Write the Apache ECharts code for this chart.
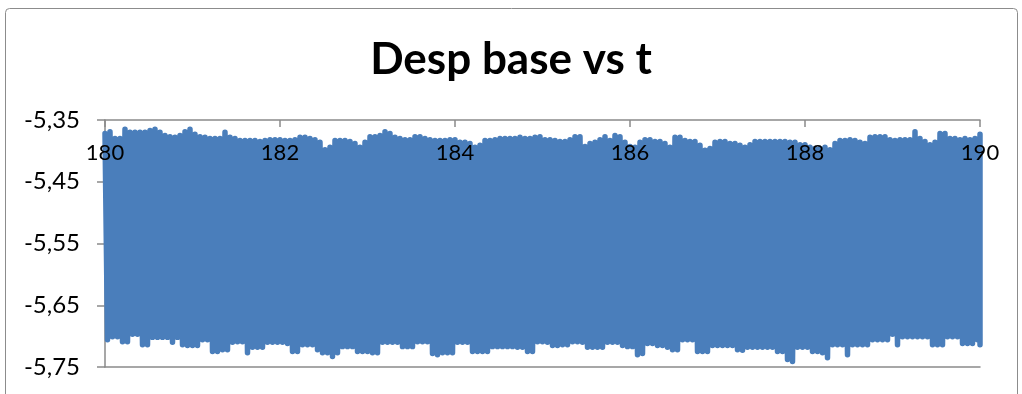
<!DOCTYPE html>
<html>
<head>
<meta charset="utf-8">
<script src="https://cdn.jsdelivr.net/npm/echarts@6/dist/echarts.min.js"></script>
<style>
html,body{margin:0;padding:0;background:#fff;}
#chart{width:1022px;height:394px;}
</style>
</head>
<body>
<div id="chart"></div>
<script>
// Sampling window (t) and axis ticks
const tFirst = 180;
const tLast = 190;
const xTicks = [180, 182, 184, 186, 188, 190];
const yTicks = [-5.75, -5.65, -5.55, -5.45, -5.35];

// Upper envelope (oscillation maxima, line centre), read left to right
const tops = [
-5.372,-5.369,-5.380,-5.380,-5.365,-5.370,-5.370,-5.370,-5.370,-5.367,
-5.365,-5.370,-5.375,-5.377,-5.378,-5.375,-5.369,-5.365,-5.373,-5.377,
-5.378,-5.380,-5.380,-5.380,-5.370,-5.378,-5.380,-5.383,-5.383,-5.383,
-5.383,-5.385,-5.383,-5.382,-5.382,-5.382,-5.383,-5.383,-5.382,-5.378,
-5.378,-5.380,-5.382,-5.386,-5.398,-5.394,-5.383,-5.383,-5.383,-5.385,
-5.388,-5.394,-5.386,-5.377,-5.377,-5.375,-5.369,-5.372,-5.378,-5.380,
-5.382,-5.382,-5.377,-5.377,-5.380,-5.382,-5.383,-5.383,-5.383,-5.382,
-5.382,-5.386,-5.386,-5.388,-5.394,-5.391,-5.383,-5.383,-5.382,-5.380,
-5.380,-5.380,-5.380,-5.378,-5.380,-5.380,-5.378,-5.377,
-5.382,-5.382,-5.383,-5.385,-5.385,-5.382,-5.377,-5.377,-5.393,-5.388,
-5.386,-5.382,-5.377,-5.383,-5.375,-5.377,-5.386,-5.393,-5.394,-5.386,
-5.382,-5.382,-5.385,-5.385,-5.388,-5.394,-5.378,-5.378,-5.383,-5.385,
-5.385,-5.391,-5.399,-5.396,-5.386,-5.385,-5.385,-5.388,-5.388,-5.391,
-5.394,-5.390,-5.385,-5.385,-5.385,-5.385,-5.385,-5.385,-5.385,-5.386,
-5.386,-5.390,-5.390,-5.394,-5.396,-5.396,-5.394,-5.398,-5.388,-5.383,
-5.383,-5.382,-5.383,-5.386,-5.388,-5.378,-5.377,-5.377,-5.377,-5.382,
-5.383,-5.382,-5.382,-5.382,-5.369,-5.380,-5.385,-5.390,-5.386,-5.372,
-5.372,-5.380,-5.380,-5.382,-5.380,-5.382,-5.380,-5.373
];

// Lower envelope (oscillation minima, line centre), read left to right
const bottoms = [
-5.706,-5.701,-5.701,-5.709,-5.709,-5.697,-5.697,-5.714,-5.714,-5.702,
-5.702,-5.702,-5.702,-5.710,-5.702,-5.714,-5.715,-5.715,-5.715,-5.706,
-5.706,-5.725,-5.725,-5.722,-5.722,-5.710,-5.709,-5.709,-5.727,-5.718,
-5.718,-5.718,-5.710,-5.710,-5.710,-5.710,-5.712,-5.725,-5.725,-5.714,
-5.714,-5.714,-5.722,-5.727,-5.727,-5.733,-5.727,-5.717,-5.717,-5.717,
-5.725,-5.725,-5.725,-5.727,-5.727,-5.710,-5.710,-5.710,-5.710,-5.717,
-5.717,-5.717,-5.709,-5.709,-5.709,-5.728,-5.730,-5.727,-5.727,-5.727,
-5.710,-5.710,-5.710,-5.725,-5.725,-5.725,-5.725,-5.717,-5.717,-5.717,
-5.717,-5.717,-5.718,-5.718,-5.725,-5.725,-5.709,-5.709,
-5.710,-5.715,-5.715,-5.714,-5.714,-5.709,-5.709,-5.710,-5.718,-5.718,
-5.718,-5.718,-5.710,-5.710,-5.710,-5.715,-5.717,-5.717,-5.730,-5.728,
-5.712,-5.712,-5.715,-5.715,-5.718,-5.722,-5.722,-5.706,-5.706,-5.706,
-5.725,-5.725,-5.725,-5.715,-5.715,-5.715,-5.715,-5.715,-5.722,-5.723,
-5.718,-5.718,-5.718,-5.718,-5.718,-5.718,-5.725,-5.725,-5.738,-5.741,
-5.718,-5.718,-5.718,-5.725,-5.725,-5.727,-5.735,-5.714,-5.714,-5.714,
-5.730,-5.714,-5.714,-5.714,-5.714,-5.706,-5.706,-5.706,-5.706,-5.697,
-5.714,-5.701,-5.701,-5.701,-5.701,-5.701,-5.701,-5.714,-5.714,-5.714,
-5.701,-5.701,-5.701,-5.712,-5.712,-5.712,-5.706,-5.714
];

// Build the oscillating trace: each sample goes up to its maximum, then down to its minimum
const nSamples = tops.length;
const tStep = (tLast - tFirst) / (nSamples - 1);
const trace = [];
for (let i = 0; i < nSamples; i++) {
  const t = tFirst + i * tStep;
  trace.push([t, tops[i]]);
  trace.push([Math.min(t + tStep / 2, tLast), bottoms[i]]);
}

const FONT = 'Lato';
const AXIS_GREY = '#8A8A8A';

const chart = echarts.init(document.getElementById('chart'), null, {renderer: 'canvas'});
chart.setOption({
  animation: false,
  backgroundColor: '#ffffff',
  title: {
    text: 'Desp base vs t',
    left: 'center',
    top: 33,
    textStyle: {fontFamily: FONT, fontWeight: 'bold', fontSize: 44, color: '#000'}
  },
  graphic: [{
    type: 'rect',
    shape: {x: 5.5, y: 8.5, width: 1012, height: 420, r: 4},
    style: {fill: 'none', stroke: '#8C8C8C', lineWidth: 1},
    silent: true,
    z: -1
  }],
  grid: {left: 105, right: 42, top: 120, bottom: 27, containLabel: false},
  xAxis: [{
    type: 'value',
    position: 'top',
    min: xTicks[0],
    max: xTicks[xTicks.length - 1],
    interval: xTicks[1] - xTicks[0],
    z: 10,
    axisLine: {show: true, onZero: false, lineStyle: {color: AXIS_GREY, width: 1.5}},
    axisTick: {show: true, inside: true, length: 7, lineStyle: {color: AXIS_GREY, width: 1.5}},
    axisLabel: {
      inside: true, margin: 22, showMinLabel: true, showMaxLabel: true,
      fontFamily: FONT, fontSize: 22, color: '#000'
    },
    splitLine: {show: false}
  }, {
    type: 'value',
    position: 'bottom',
    min: xTicks[0],
    max: xTicks[xTicks.length - 1],
    axisLine: {show: true, onZero: false, lineStyle: {color: AXIS_GREY, width: 1.5}},
    axisTick: {show: false},
    axisLabel: {show: false},
    splitLine: {show: false}
  }],
  yAxis: {
    type: 'value',
    min: yTicks[0],
    max: yTicks[yTicks.length - 1],
    interval: 0.1,
    axisLine: {show: true, onZero: false, lineStyle: {color: AXIS_GREY, width: 1.5}},
    axisTick: {show: true, inside: false, length: 8, lineStyle: {color: AXIS_GREY, width: 1.5}},
    axisLabel: {
      margin: 25, showMinLabel: true, showMaxLabel: true,
      fontFamily: FONT, fontSize: 24, color: '#000',
      formatter: v => v.toFixed(2).replace('.', ',')
    },
    splitLine: {show: false}
  },
  series: [{
    type: 'line',
    xAxisIndex: 0,
    data: trace,
    showSymbol: false,
    sampling: 'none',
    clip: true,
    lineStyle: {color: '#4A7EBB', width: 5.5, cap: 'round', join: 'round'},
    itemStyle: {color: '#4A7EBB'},
    z: 2
  }]
});
</script>
</body>
</html>
